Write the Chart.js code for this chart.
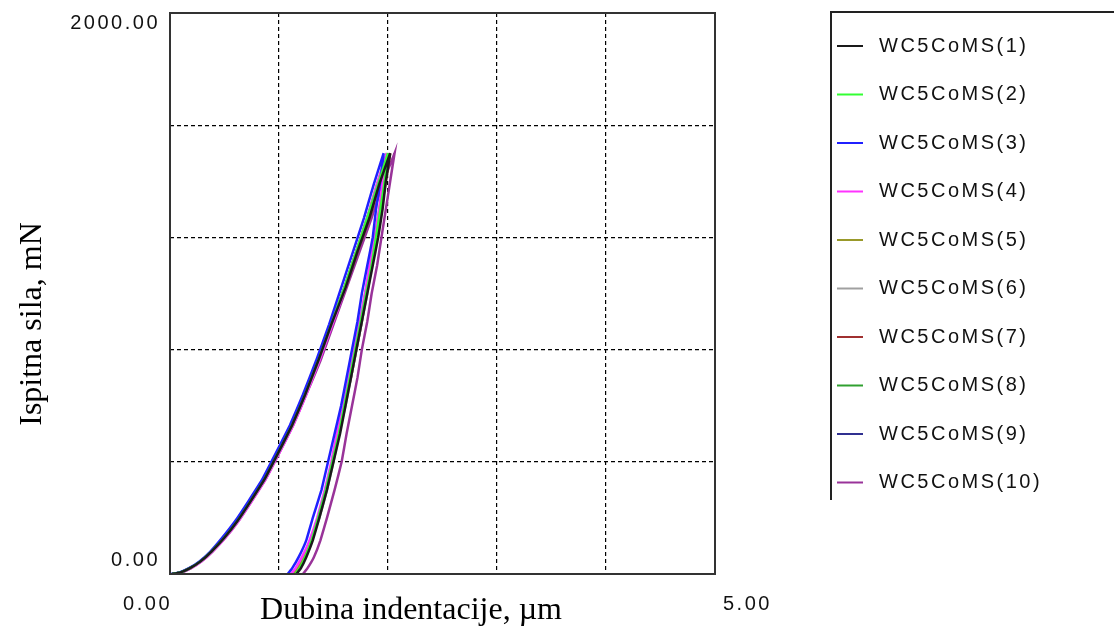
<!DOCTYPE html>
<html><head><meta charset="utf-8">
<script src="https://cdn.jsdelivr.net/npm/chart.js@4/dist/chart.umd.min.js"></script>
<style>html,body{margin:0;padding:0;background:#fff;}#wrap{width:1114px;height:638px;position:relative;}</style>
</head><body><div id="wrap"><canvas id="c"></canvas></div>
<script>
const seriesNames = ['WC5CoMS(1)','WC5CoMS(2)','WC5CoMS(3)','WC5CoMS(4)','WC5CoMS(5)','WC5CoMS(6)','WC5CoMS(7)','WC5CoMS(8)','WC5CoMS(9)','WC5CoMS(10)'];
const seriesColors = ['#1a1a1a','#33ff33','#2020ff','#ff33ff','#99992a','#a0a0a0','#a03030','#30a030','#303090','#993399'];
const xTickLabels = ['0.00','5.00'];
const yTickLabels = ['0.00','2000.00'];
const xTitle = 'Dubina indentacije, µm';
const yTitle = 'Ispitna sila, mN';

const loadForce = [0,5,20,45,80,130,190,260,340,430,530,640,760,890,1020,1150,1270,1390,1500];
const loadDepth1  = [0.02,0.09,0.18,0.28,0.38,0.50,0.62,0.74,0.87,0.99,1.12,1.24,1.36,1.48,1.61,1.72,1.83,1.92,2.02];
const loadDepth2  = [0.02,0.09,0.18,0.28,0.38,0.50,0.62,0.74,0.87,0.99,1.12,1.24,1.36,1.48,1.60,1.71,1.81,1.91,2.00];
const loadDepth3  = [0.01,0.08,0.17,0.27,0.37,0.48,0.60,0.72,0.85,0.97,1.10,1.22,1.34,1.46,1.57,1.68,1.78,1.87,1.96];
const loadDepth4  = [0.02,0.10,0.19,0.29,0.39,0.51,0.63,0.75,0.88,1.00,1.13,1.25,1.37,1.49,1.61,1.71,1.81,1.90,1.99];
const loadDepth5  = [0.02,0.09,0.18,0.28,0.38,0.50,0.62,0.74,0.87,0.99,1.12,1.24,1.36,1.48,1.60,1.71,1.81,1.90,1.99];
const loadDepth6  = [0.02,0.09,0.18,0.28,0.38,0.50,0.62,0.74,0.87,0.99,1.12,1.24,1.36,1.48,1.60,1.71,1.82,1.91,2.01];
const loadDepth7  = [0.02,0.09,0.18,0.28,0.38,0.50,0.62,0.74,0.87,0.99,1.12,1.24,1.36,1.48,1.61,1.72,1.83,1.92,2.02];
const loadDepth8  = [0.02,0.09,0.18,0.28,0.38,0.50,0.62,0.74,0.87,0.99,1.12,1.24,1.36,1.48,1.60,1.71,1.82,1.91,2.01];
const loadDepth9  = [0.02,0.09,0.18,0.28,0.38,0.50,0.62,0.74,0.87,0.99,1.12,1.24,1.36,1.48,1.60,1.71,1.81,1.91,2.00];
const loadDepth10 = [0.02,0.10,0.19,0.29,0.39,0.51,0.63,0.75,0.88,1.00,1.13,1.25,1.38,1.50,1.62,1.74,1.85,1.95,2.06];

const unloadForce = [1500,1400,1300,1200,1100,1000,900,800,700,600,500,400,300,200,120,60,20,0];
const unloadDepth1  = [2.02,1.98,1.95,1.91,1.86,1.81,1.76,1.71,1.66,1.61,1.56,1.50,1.44,1.37,1.31,1.25,1.20,1.16];
const unloadDepth2  = [2.00,1.97,1.93,1.89,1.85,1.80,1.75,1.70,1.65,1.60,1.55,1.49,1.43,1.36,1.30,1.24,1.19,1.15];
const unloadDepth3  = [1.96,1.93,1.89,1.86,1.81,1.76,1.72,1.67,1.62,1.57,1.51,1.45,1.39,1.31,1.25,1.18,1.12,1.08];
const unloadDepth4  = [1.99,1.95,1.92,1.88,1.83,1.79,1.74,1.69,1.64,1.59,1.53,1.48,1.42,1.35,1.28,1.21,1.15,1.11];
const unloadDepth5  = [1.99,1.96,1.92,1.88,1.84,1.79,1.75,1.70,1.65,1.60,1.54,1.49,1.43,1.36,1.29,1.23,1.17,1.13];
const unloadDepth6  = [2.01,1.97,1.94,1.90,1.85,1.81,1.76,1.71,1.66,1.61,1.55,1.50,1.44,1.37,1.30,1.24,1.19,1.15];
const unloadDepth7  = [2.02,1.98,1.94,1.90,1.85,1.80,1.76,1.71,1.66,1.60,1.55,1.49,1.43,1.36,1.30,1.24,1.18,1.14];
const unloadDepth8  = [2.01,1.97,1.94,1.90,1.85,1.80,1.75,1.70,1.65,1.60,1.55,1.49,1.43,1.36,1.30,1.24,1.18,1.14];
const unloadDepth9  = [2.00,1.96,1.93,1.89,1.84,1.80,1.75,1.70,1.65,1.60,1.54,1.49,1.43,1.36,1.29,1.23,1.18,1.13];
const unloadDepth10 = [2.06,2.02,1.98,1.94,1.90,1.85,1.81,1.76,1.72,1.67,1.62,1.575,1.51,1.44,1.38,1.32,1.26,1.22];

const loadDepths = [loadDepth1,loadDepth2,loadDepth3,loadDepth4,loadDepth5,loadDepth6,loadDepth7,loadDepth8,loadDepth9,loadDepth10];
const unloadDepths = [unloadDepth1,unloadDepth2,unloadDepth3,unloadDepth4,unloadDepth5,unloadDepth6,unloadDepth7,unloadDepth8,unloadDepth9,unloadDepth10];

const datasets = seriesNames.map((name, i) => {
  const pts = [];
  loadDepths[i].forEach((d, k) => pts.push({x: d, y: loadForce[k]}));
  unloadDepths[i].forEach((d, k) => pts.push({x: d, y: unloadForce[k]}));
  return {label: name, data: pts, borderColor: seriesColors[i], backgroundColor: seriesColors[i],
          borderWidth: 2.5, pointRadius: 0, showLine: true, tension: 0.08, fill: false};
});

const TICK_FONT = '20px "Liberation Sans", Arial, sans-serif';
const TITLE_FONT = '32px "Liberation Serif", "Times New Roman", serif';

const decor = {
  id: 'decor',
  afterDraw(chart) {
    const ctx = chart.ctx, a = chart.chartArea;
    const ys = chart.scales.y;
    ctx.save();
    ctx.strokeStyle = '#333333'; ctx.lineWidth = 2;
    ctx.strokeRect(a.left, a.top, a.right - a.left, a.bottom - a.top);
    ctx.fillStyle = '#111111';
    ctx.font = TICK_FONT;
    try { ctx.letterSpacing = '2.5px'; } catch(e) {}
    ctx.textBaseline = 'middle';
    ctx.textAlign = 'right';
    ctx.fillText(yTickLabels[0], a.left - 10, ys.getPixelForValue(0) - 14);
    ctx.fillText(yTickLabels[1], a.left - 10, ys.getPixelForValue(2000) + 10);
    ctx.fillText(xTickLabels[0], a.left + 2, a.bottom + 30);
    ctx.textAlign = 'left';
    ctx.fillText(xTickLabels[1], a.right + 8, a.bottom + 30);
    const lx = 831, ly = 12;
    ctx.strokeStyle = '#222222'; ctx.lineWidth = 2;
    ctx.beginPath(); ctx.moveTo(lx, 500); ctx.lineTo(lx, ly); ctx.lineTo(1114, ly); ctx.stroke();
    chart.data.datasets.forEach((ds, i) => {
      const y = 46 + i * 48.5;
      ctx.strokeStyle = ds.borderColor; ctx.lineWidth = 2;
      ctx.beginPath(); ctx.moveTo(837, y); ctx.lineTo(863, y); ctx.stroke();
      ctx.fillStyle = '#111111';
      ctx.fillText(ds.label, 879, y);
    });
    try { ctx.letterSpacing = '0px'; } catch(e) {}
    ctx.font = TITLE_FONT;
    ctx.fillStyle = '#000000';
    ctx.textAlign = 'center'; ctx.textBaseline = 'middle';
    ctx.fillText(xTitle, 411, 611);
    ctx.translate(33, 324); ctx.rotate(-Math.PI / 2);
    ctx.fillText(yTitle, 0, 0);
    ctx.restore();
  }
};

new Chart(document.getElementById('c'), {
  type: 'scatter',
  data: {datasets},
  options: {
    responsive: true, maintainAspectRatio: false, animation: false,
    layout: {padding: {left: 170, top: 13, right: 399, bottom: 64}},
    plugins: {legend: {display: false}, tooltip: {enabled: false}},
    scales: {
      x: {type: 'linear', min: 0, max: 5,
          ticks: {display: false, stepSize: 1},
          grid: {color: '#000000', lineWidth: 1.2, drawTicks: false},
          border: {display: false, dash: [4, 3]}},
      y: {type: 'linear', min: 0, max: 2000,
          ticks: {display: false, stepSize: 400},
          grid: {color: '#000000', lineWidth: 1.2, drawTicks: false},
          border: {display: false, dash: [4, 3]}}
    }
  },
  plugins: [decor]
});
</script></body></html>
